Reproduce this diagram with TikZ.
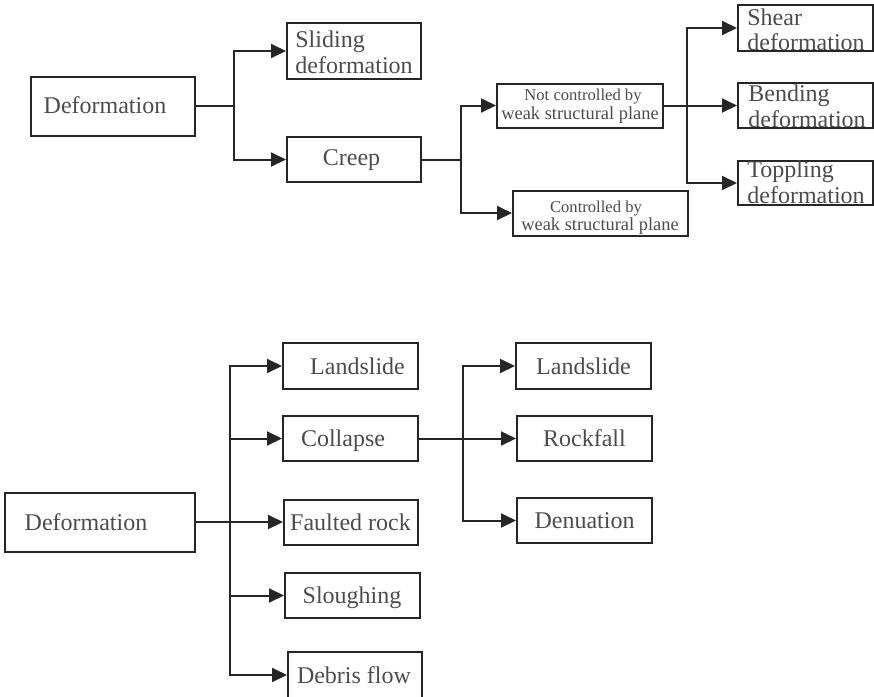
\documentclass[tikz,border=0pt]{standalone}
\usepackage{fontspec}
\setmainfont{Liberation Serif}
\usetikzlibrary{arrows.meta}
\begin{document}
\begin{tikzpicture}[x=0.5pt,y=-0.5pt,
  bx/.style={draw=black!85, line width=1pt, inner sep=0pt, rectangle},
  ln/.style={draw=black!85, line width=1pt},
  arr/.style={ln, -{Triangle[length=7.5pt,width=7pt]}},
  txt/.style={inner sep=0pt, text=black!70, font=\fontsize{12}{13}\selectfont, anchor=base},
  txtl/.style={txt, anchor=base west},
  sm/.style={inner sep=0pt, text=black!70, font=\fontsize{8.3}{9}\selectfont, anchor=base},
  smb/.style={inner sep=0pt, text=black!70, font=\fontsize{9.2}{10}\selectfont, anchor=base}]
\useasboundingbox[fill=white] (0,0) rectangle (874,697);

% ---------- top diagram ----------
\node[bx, minimum width=82pt, minimum height=29.5pt] (def1) at (113,106) {};
\node[bx, minimum width=67pt, minimum height=28pt] (slide) at (354,51) {};
\node[bx, minimum width=67pt, minimum height=22.5pt] (creep) at (354,159.5) {};
\node[bx, minimum width=83pt, minimum height=22pt] (nc) at (580,105.5) {};
\node[bx, minimum width=87.5pt, minimum height=22.5pt] (ctl) at (600.5,213) {};
\node[bx, minimum width=67.5pt, minimum height=23pt] (shear) at (805.5,28) {};
\node[bx, minimum width=67.5pt, minimum height=22.5pt] (bend) at (805.5,105.5) {};
\node[bx, minimum width=67.5pt, minimum height=22pt] (topp) at (805.5,183) {};

\node[txt] (tdef1) at (105,113) {Deformation};
\node[txtl] (tslide1) at (295,47) {Sliding};
\node[txtl] (tslide2) at (295,73) {deformation};
\node[txt] (tcreep) at (351.5,165) {Creep};
\node[sm] (tnc1) at (583,100) {Not controlled by};
\node[smb] (tnc2) at (580,119) {weak structural plane};
\node[sm] (tctl1) at (596,212) {Controlled by};
\node[smb] (tctl2) at (600,230) {weak structural plane};
\node[txtl] (tshear1) at (747,25) {Shear};
\node[txtl] (tshear2) at (747,50) {deformation};
\node[txtl] (tbend1) at (748,101) {Bending};
\node[txtl] (tbend2) at (748,127) {deformation};
\node[txtl] (ttopp1) at (747,177) {Toppling};
\node[txtl] (ttopp2) at (747,203) {deformation};

\coordinate (j1) at (234,106);
\coordinate (j2) at (461,159.5);
\coordinate (j3) at (687,105.5);

\draw[ln] (def1.east) -- (j1);
\draw[arr] (j1) |- (slide.west);
\draw[arr] (j1) |- (creep.west);
\draw[ln] (creep.east) -- (j2);
\draw[arr] (j2) |- (nc.west);
\draw[arr] (j2) |- (ctl.west);
\draw[ln] (nc.east) -- (j3);
\draw[arr] (j3) |- (shear.west);
\draw[arr] (j3) |- (bend.west);
\draw[arr] (j3) |- (topp.west);

% ---------- bottom diagram ----------
\node[bx, minimum width=95pt, minimum height=29.5pt] (def2) at (100,522) {};
\node[bx, minimum width=67.5pt, minimum height=23pt] (ls1) at (350.5,366) {};
\node[bx, minimum width=67.5pt, minimum height=22.5pt] (col) at (350.5,438.5) {};
\node[bx, minimum width=67pt, minimum height=22.5pt] (fr) at (351,522) {};
\node[bx, minimum width=67.5pt, minimum height=22.5pt] (sl) at (352.5,595.5) {};
\node[bx, minimum width=67pt, minimum height=23pt] (df) at (355,675) {};
\node[bx, minimum width=67.5pt, minimum height=23pt] (ls2) at (583.5,366) {};
\node[bx, minimum width=67.5pt, minimum height=22.5pt] (rf) at (584.5,438.5) {};
\node[bx, minimum width=67.5pt, minimum height=22.5pt] (den) at (584.5,520.5) {};

\node[txt] (tdef2) at (86,530) {Deformation};
\node[txt] (tls1) at (357.5,374) {Landslide};
\node[txt] (tcol) at (343,446.5) {Collapse};
\node[txt] (tfr) at (350.5,530) {Faulted rock};
\node[txt] (tsl) at (352,603.5) {Sloughing};
\node[txt] (tdf) at (354,683) {Debris flow};
\node[txt] (tls2) at (583.5,374) {Landslide};
\node[txt] (trf) at (584.5,446.5) {Rockfall};
\node[txt] (tden) at (584.5,528.5) {Denuation};

\coordinate (j4) at (230,522);
\coordinate (j5) at (463,438.5);

\draw[ln] (def2.east) -- (j4);
\draw[arr] (j4) |- (ls1.west);
\draw[arr] (j4) |- (col.west);
\draw[arr] (j4) |- (fr.west);
\draw[arr] (j4) |- (sl.west);
\draw[arr] (j4) |- (df.west);
\draw[ln] (col.east) -- (j5);
\draw[arr] (j5) |- (ls2.west);
\draw[arr] (j5) |- (rf.west);
\draw[arr] (j5) |- (den.west);
\end{tikzpicture}
\end{document}
